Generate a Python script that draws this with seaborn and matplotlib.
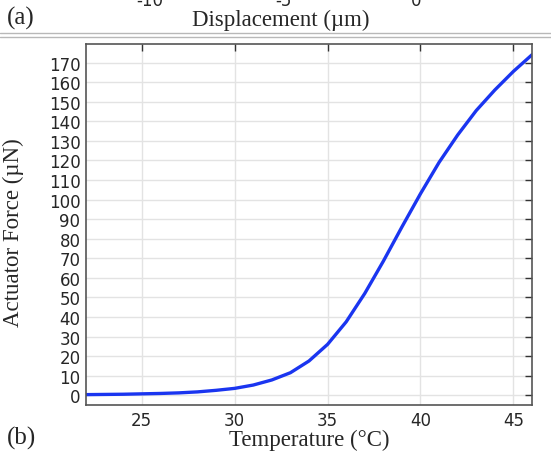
import pandas as pd
import matplotlib.pyplot as plt
from matplotlib.lines import Line2D
import seaborn as sns

temperature = [22, 23, 24, 25, 26, 27, 28, 29, 30, 31, 32, 33, 34, 35,
               36, 37, 38, 39, 40, 41, 42, 43, 44, 45, 46]
force = [0.3, 0.4, 0.5, 0.7, 0.9, 1.2, 1.7, 2.5, 3.5, 5.2, 7.8, 11.5, 17.5, 26,
         37.5, 52, 68.5, 86, 103, 119, 133, 145.5, 156, 165.5, 174]

top_ticks = ["-10", "-5", "0"]
top_tick_x = [150, 283, 416]

df = pd.DataFrame({"temperature": temperature, "force": force})

sns.set_style("white")
plt.rcParams["font.family"] = ["DejaVu Sans"]

W, H = 551, 456
fig = plt.figure(figsize=(W / 100, H / 100), dpi=100)
ax = fig.add_axes([86 / W, 1 - 406 / H, (532 - 86) / W, (406 - 45) / H])

sns.lineplot(data=df, x="temperature", y="force", color="#1a35f0", linewidth=2.4, ax=ax)

ax.set_xlim(22, 46)
ax.set_ylim(-5, 179.5)
ax.set_xticks([25, 30, 35, 40, 45])
ax.set_yticks(range(0, 171, 10))
ax.grid(True, color="#e3e3e3", linewidth=1)
ax.tick_params(direction="in", length=5, width=1, top=True, right=True,
               labelsize=12, color="#333333", pad=4)
for s in ax.spines.values():
    s.set_color("#555555")
    s.set_linewidth(1.2)

serif = ["Liberation Serif", "DejaVu Serif"]
ax.set_xlabel("Temperature (°C)", family=serif, fontsize=16.5, labelpad=0)
ax.set_ylabel("Actuator Force (µN)", family=serif, fontsize=16.5)
ax.yaxis.set_label_coords(-62 / (532 - 86), 0.48)

# strip of the previous panel above
fig.text(7 / W, 1 - 18 / H, "(a)", family=serif, fontsize=18, va="center", ha="left")
fig.text(281 / W, 1 - 20 / H, "Displacement (µm)", family=serif, fontsize=16.5, va="center", ha="center")
for lab, x in zip(top_ticks, top_tick_x):
    fig.text(x / W, 1 - 1 / H, lab, fontsize=12, va="center", ha="center")
fig.text(7 / W, 1 - 438 / H, "(b)", family=serif, fontsize=18, va="center", ha="left")

for y in (33.5, 38):
    fig.add_artist(Line2D([0, 1], [1 - y / H, 1 - y / H], color="#b8b8b8", linewidth=1,
                          transform=fig.transFigure))

fig.savefig("out.png", dpi=100)
